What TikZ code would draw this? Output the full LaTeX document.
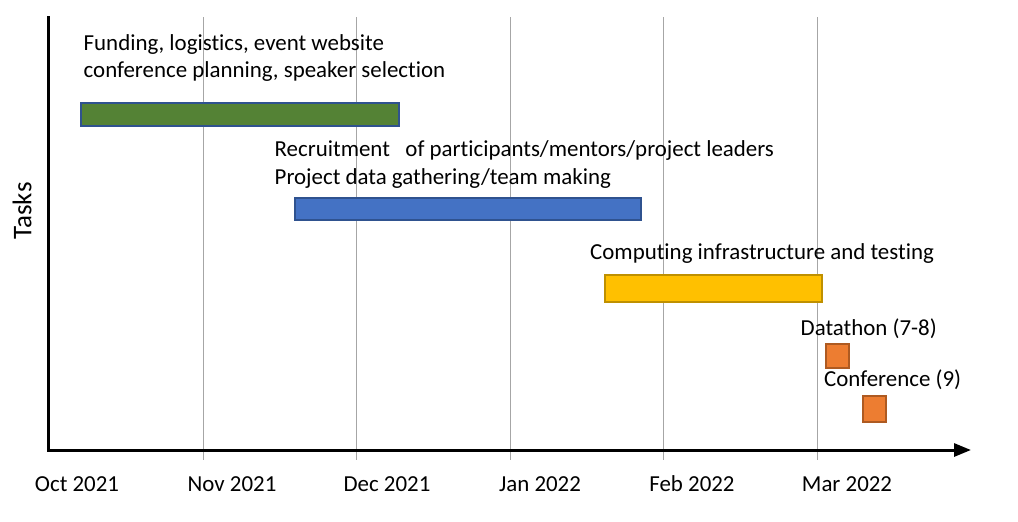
\documentclass[tikz,border=0pt]{standalone}
\usepackage{fontspec}
\setmainfont{Carlito}[Ligatures={NoCommon}]
\usetikzlibrary{arrows.meta}
\definecolor{gridgray}{HTML}{A6A6A6}
\definecolor{greenfill}{HTML}{548235}
\definecolor{bluefill}{HTML}{4472C4}
\definecolor{blueline}{HTML}{2F528F}
\definecolor{yellowfill}{HTML}{FFC000}
\definecolor{yellowline}{HTML}{BF9000}
\definecolor{orangefill}{HTML}{ED7D31}
\definecolor{orangeline}{HTML}{AE5A21}
\tikzset{
  lbl/.style={inner sep=0pt, anchor=base west, font=\fontsize{22.9}{27}\selectfont, align=left},
  mlbl/.style={inner sep=0pt, anchor=base, font=\fontsize{22.9}{27}\selectfont},
  gridline/.style={draw=gridgray, line width=1pt},
  bar/.style={draw, line width=2pt, inner sep=0pt, anchor=north west},
  axisline/.style={line width=3pt, black},
}
\begin{document}
\begin{tikzpicture}[x=1pt,y=-1pt]
\useasboundingbox (0,0) rectangle (1018,522);
% grid lines
\foreach \gx in {203.5,356.5,510.5,663.5,817.5}{
  \draw[gridline] (\gx,17) -- (\gx,460);
}
% bars
\node[bar, fill=greenfill, draw=blueline, minimum width=318pt, minimum height=22.7pt] (b1) at (80,102) {};
\node[bar, fill=bluefill, draw=blueline, minimum width=345.7pt, minimum height=22.3pt] (b2) at (294,196.7) {};
\node[bar, fill=yellowfill, draw=yellowline, minimum width=217pt, minimum height=26.7pt] (b3) at (604,274) {};
\node[bar, fill=orangefill, draw=orangeline, minimum width=22.4pt, minimum height=24.6pt] (b4) at (825.3,342.7) {};
\node[bar, fill=orangefill, draw=orangeline, minimum width=22.4pt, minimum height=26pt] (b5) at (862.3,395.3) {};
% labels
\node[lbl] (t1a) at (83.5,50) {Funding, logistics, event website};
\node[lbl] (t1b) at (83.5,77.5) {conference planning, speaker selection};
\node[lbl] (t2a) at (274.5,156.5) {Recruitment\ \ \ of participants/mentors/project leaders};
\node[lbl] (t2b) at (274.5,184) {Project data gathering/team making};
\node[lbl] (t3) at (590,259.5) {Computing infrastructure and testing};
\node[lbl] (t4) at (800.5,335) {Datathon (7-8)};
\node[lbl] (t5) at (824,386.5) {Conference (9)};
% axes
\coordinate (ytop) at (48.5,17);
\coordinate (origin) at (48.5,450);
\coordinate (xend) at (971,450);
\draw[axisline, line cap=rect] (ytop) -- (origin);
\draw[axisline, -{Triangle[length=17pt,width=13pt]}] (origin) -- (xend);
% month labels
\node[mlbl] (m1) at (77,491.5) {Oct 2021};
\node[mlbl] (m2) at (232,491.5) {Nov 2021};
\node[mlbl] (m3) at (387,491.5) {Dec 2021};
\node[mlbl] (m4) at (540,491.5) {Jan 2022};
\node[mlbl] (m5) at (692,491.5) {Feb 2022};
\node[mlbl] (m6) at (847,491.5) {Mar 2022};
% y-axis title
\node[inner sep=0pt, rotate=90, font=\fontsize{27}{32}\selectfont] (ytitle) at (22,211) {Tasks};
\end{tikzpicture}
\end{document}
